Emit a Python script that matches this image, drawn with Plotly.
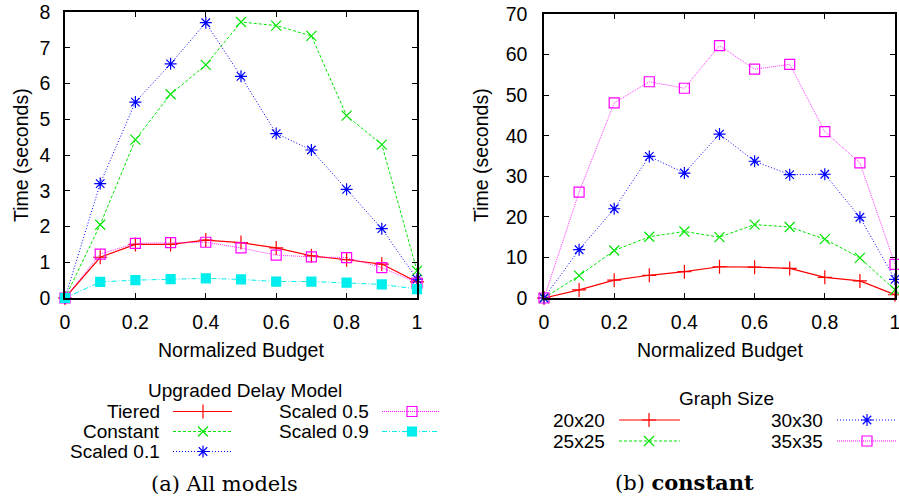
import plotly.graph_objects as go

W, H = 899, 501

# ---------------- data ----------------
budget = [0, 0.1, 0.2, 0.3, 0.4, 0.5, 0.6, 0.7, 0.8, 0.9, 1.0]

model_names = ["Tiered", "Constant", "Scaled 0.1", "Scaled 0.5", "Scaled 0.9"]
tiered = [0, 1.14, 1.5, 1.5, 1.62, 1.55, 1.4, 1.18, 1.07, 0.95, 0.45]
constant = [0, 2.05, 4.43, 5.7, 6.52, 7.72, 7.62, 7.33, 5.1, 4.29, 0.76]
scaled01 = [0, 3.2, 5.48, 6.55, 7.7, 6.2, 4.6, 4.14, 3.04, 1.94, 0.53]
scaled05 = [0, 1.23, 1.53, 1.55, 1.56, 1.4, 1.2, 1.15, 1.13, 0.85, 0.42]
scaled09 = [0, 0.45, 0.5, 0.53, 0.55, 0.52, 0.46, 0.46, 0.43, 0.38, 0.25]

size_names = ["20x20", "25x25", "30x30", "35x35"]
g20 = [0, 2.0, 4.4, 5.6, 6.5, 7.7, 7.6, 7.3, 5.1, 4.2, 0.8]
g25 = [0, 5.5, 11.7, 15.1, 16.4, 15.0, 18.1, 17.5, 14.5, 9.9, 2.0]
g30 = [0, 11.9, 22.0, 34.9, 30.8, 40.4, 33.7, 30.4, 30.5, 19.9, 4.6]
g35 = [0, 26.1, 48.1, 53.3, 51.7, 62.2, 56.4, 57.6, 41.0, 33.3, 8.3]

x_ticks = [0, 0.2, 0.4, 0.6, 0.8, 1]
x_ticklabels = ["0", "0.2", "0.4", "0.6", "0.8", "1"]
y_ticks_left = [0, 1, 2, 3, 4, 5, 6, 7, 8]
y_ticks_right = [0, 10, 20, 30, 40, 50, 60, 70]

# ---------------- styles ----------------
RED, GREEN, BLUE, MAG, CYAN = "#ff0000", "#00e600", "#0000ff", "#ff00ff", "#00eeee"
styles_left = [
    dict(color=RED, dash="solid", symbol="cross-thin-open", size=10, lw=1.2),
    dict(color=GREEN, dash="3px,2px", symbol="x-thin-open", size=10, lw=1.0),
    dict(color=BLUE, dash="1px,2px", symbol="asterisk-open", size=10, lw=1.0),
    dict(color=MAG, dash="1px,1px", symbol="square-open", size=10, lw=0.8),
    dict(color=CYAN, dash="5px,2px,1px,2px", symbol="square", size=9, lw=1.0),
]
styles_right = styles_left[:4]

FONT = "Liberation Sans, Arial, sans-serif"
SERIF = "DejaVu Serif, serif"
FS = 19.5
FS_LEG = 19

def px_x(p):
    return p / W

def px_y(p):
    return 1 - p / H

# plot areas in pixels
L = dict(l=65, r=417, t=12, b=298)
R = dict(l=544, r=895, t=14, b=298)

fig = go.Figure()

left_series = [tiered, constant, scaled01, scaled05, scaled09]
for name, ys, st in zip(model_names, left_series, styles_left):
    fig.add_trace(go.Scatter(
        x=budget, y=ys, name=name, mode="lines+markers", xaxis="x", yaxis="y",
        line=dict(color=st["color"], dash=st["dash"], width=st["lw"]),
        marker=dict(symbol=st["symbol"], size=st["size"], color=st["color"],
                    line=dict(color=st["color"], width=1.2)),
        cliponaxis=False, showlegend=False))

right_series = [g20, g25, g30, g35]
for name, ys, st in zip(size_names, right_series, styles_right):
    fig.add_trace(go.Scatter(
        x=budget, y=ys, name=name, mode="lines+markers", xaxis="x2", yaxis="y2",
        line=dict(color=st["color"], dash=st["dash"], width=st["lw"]),
        marker=dict(symbol=st["symbol"], size=st["size"], color=st["color"],
                    line=dict(color=st["color"], width=1.2)),
        cliponaxis=False, showlegend=False))

# ---------------- custom legends (overlay pixel axis) ----------------
def legend_entry(label, st, text_right, y, x0, x1, xm):
    fig.add_trace(go.Scatter(
        x=[x0, x1], y=[y, y], mode="lines", xaxis="x3", yaxis="y3",
        line=dict(color=st["color"], dash=st["dash"], width=max(st["lw"], 1.2)),
        showlegend=False, hoverinfo="skip", cliponaxis=False))
    fig.add_trace(go.Scatter(
        x=[xm], y=[y], mode="markers", xaxis="x3", yaxis="y3",
        marker=dict(symbol=st["symbol"], size=st["size"], color=st["color"],
                    line=dict(color=st["color"], width=1.2)),
        showlegend=False, hoverinfo="skip", cliponaxis=False))
    fig.add_annotation(x=text_right, y=y, xref="x3", yref="y3", text=label,
                       showarrow=False, xanchor="right", yanchor="middle",
                       borderpad=0,
                       font=dict(family=FONT, size=FS_LEG, color="black"))

left_rows = [411.5, 431.5, 451.5]
left_layout = [
    (161, left_rows[0], 173, 232, 203),
    (161, left_rows[1], 173, 232, 203),
    (161, left_rows[2], 173, 232, 203),
    (370, left_rows[0], 382, 439, 412),
    (370, left_rows[1], 382, 439, 412),
]
for name, st, (tr, y, x0, x1, xm) in zip(model_names, styles_left, left_layout):
    legend_entry(name, st, tr, y, x0, x1, xm)

right_rows = [420, 441]
right_layout = [
    (606, right_rows[0], 619, 680, 649),
    (606, right_rows[1], 619, 680, 649),
    (824, right_rows[0], 837, 897, 867),
    (824, right_rows[1], 837, 897, 867),
]
for name, st, (tr, y, x0, x1, xm) in zip(size_names, styles_right, right_layout):
    legend_entry(name, st, tr, y, x0, x1, xm)

texts = [
    ("Upgraded Delay Model", 245, 390.5, FONT, FS_LEG),
    ("Graph Size", 726, 398, FONT, FS_LEG),
    ("(a) All models", 224, 484, SERIF, 21),
    ("(b) <b>constant</b>", 684, 482, SERIF, 21),
    ("Normalized Budget", 241, 350, FONT, FS),
    ("Normalized Budget", 720, 350, FONT, FS),
]
for t, x, y, fam, fs in texts:
    fig.add_annotation(x=x, y=y, xref="x3", yref="y3", text=t, showarrow=False,
                       xanchor="center", yanchor="middle", borderpad=0,
                       font=dict(family=fam, size=fs, color="black"))
for x in (21, 481):
    fig.add_annotation(x=x, y=155, xref="x3", yref="y3", text="Time (seconds)",
                       textangle=-90, showarrow=False, xanchor="center",
                       yanchor="middle", font=dict(family=FONT, size=FS, color="black"))

axis_common = dict(showgrid=False, zeroline=False, showline=True, linecolor="black",
                   linewidth=1.5, mirror="ticks", ticks="inside", ticklen=5,
                   tickcolor="black", tickwidth=1, automargin=False,
                   ticklabeloverflow="allow",
                   tickfont=dict(family=FONT, size=FS, color="black"))

fig.update_layout(
    width=W, height=H, autosize=False,
    margin=dict(l=0, r=0, t=0, b=0, pad=0),
    paper_bgcolor="white", plot_bgcolor="rgba(0,0,0,0)",
    showlegend=False,
    xaxis=dict(domain=[px_x(L["l"]), px_x(L["r"])], range=[0, 1], anchor="y",
               tickvals=x_ticks, ticktext=x_ticklabels, ticklabelstandoff=6,
               **axis_common),
    yaxis=dict(domain=[px_y(L["b"]), px_y(L["t"])], range=[0, 8], anchor="x",
               tickvals=y_ticks_left, ticklabelstandoff=9, **axis_common),
    xaxis2=dict(domain=[px_x(R["l"]), px_x(R["r"])], range=[0, 1], anchor="y2",
                tickvals=x_ticks, ticktext=x_ticklabels, ticklabelstandoff=6,
                **axis_common),
    yaxis2=dict(domain=[px_y(R["b"]), px_y(R["t"])], range=[0, 70], anchor="x2",
                tickvals=y_ticks_right, ticklabelstandoff=11, **axis_common),
    xaxis3=dict(domain=[0, 1], range=[0, W], visible=False, anchor="y3",
                fixedrange=True, automargin=False),
    yaxis3=dict(domain=[0, 1], range=[H, 0], visible=False, anchor="x3",
                fixedrange=True, automargin=False),
)

fig.write_html(
    "out.html",
    config={"displayModeBar": False},
    post_script="document.body.style.margin='0';document.body.style.overflow='hidden';",
)
